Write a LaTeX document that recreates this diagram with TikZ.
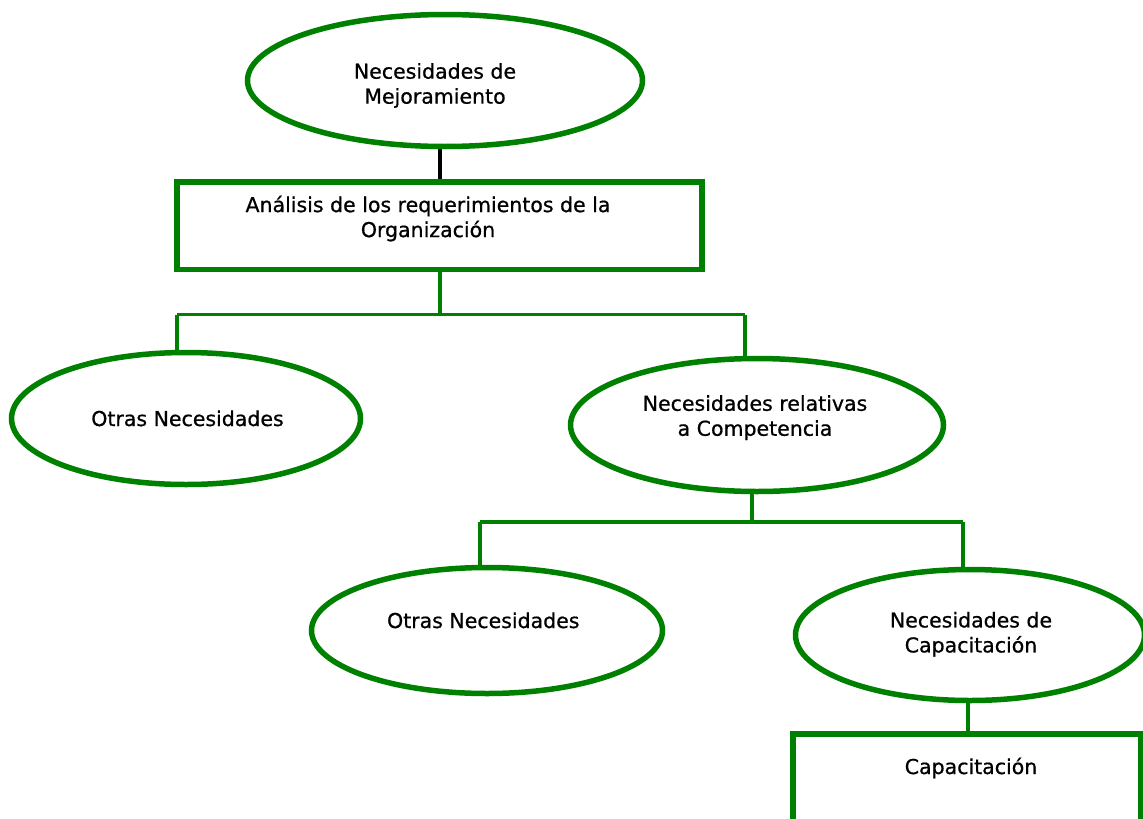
\documentclass[tikz,border=0pt]{standalone}
\usepackage{fontspec}
\setmainfont{DejaVu Sans}
\newfontfamily\lblfont{DejaVu Sans}[FakeBold=0.7]
\usetikzlibrary{shapes.geometric}
\definecolor{gr}{RGB}{0,128,0}
\tikzset{
  oval/.style={ellipse, draw=gr, line width=5.5pt, inner sep=0pt},
  boxnode/.style={rectangle, draw=gr, line width=5.5pt, inner sep=0pt},
  lbl/.style={font=\lblfont\fontsize{20.5}{25}\selectfont, align=center, inner sep=0pt, text=black},
  conn/.style={draw=gr, line width=3.5pt},
  blk/.style={draw=black, line width=4pt}
}
\begin{document}
\begin{tikzpicture}[x=1pt,y=-1pt]
\useasboundingbox (0,0) rectangle (1143,819);
\clip (0,0) rectangle (1143,819);
% shapes
\node[oval, minimum width=395pt, minimum height=132pt] (e1) at (445,80.5) {};
\node[boxnode, minimum width=525pt, minimum height=87.5pt] (r1) at (439.5,225.75) {};
\node[oval, minimum width=349pt, minimum height=132pt] (e2) at (186,418.5) {};
\node[oval, minimum width=373pt, minimum height=133pt] (e3) at (757,425) {};
\node[oval, minimum width=351pt, minimum height=126pt] (e4) at (487,630.5) {};
\node[oval, minimum width=349pt, minimum height=131pt] (e5) at (970,635) {};
\node[boxnode, minimum width=348pt, minimum height=110pt] (r2) at (967,789) {};
% texts
\node[lbl] (t1) at (435,85.5) {Necesidades de\\Mejoramiento};
\node[lbl] (t2) at (428,218.5) {Análisis de los requerimientos de la\\Organización};
\node[lbl, anchor=base] (t3) at (187.5,426) {Otras Necesidades};
\node[lbl] (t4) at (755,417.6) {Necesidades relativas\\a Competencia};
\node[lbl, anchor=base] (t5) at (483.3,628) {Otras Necesidades};
\node[lbl] (t6) at (971,634.3) {Necesidades de\\Capacitación};
\node[lbl, anchor=base] (t7) at (971,774) {Capacitación};
% connector coordinates
\coordinate (b1) at (440,314.5);
\coordinate (b1l) at (177,314.5);
\coordinate (b1r) at (745,314.5);
\coordinate (b2) at (752,522);
\coordinate (b2l) at (480,522);
\coordinate (b2r) at (963,522);
% connectors
\draw[blk] (r1.north |- e1.south) -- (r1.north);
\draw[conn] (r1.south -| b1) -- (b1);
\draw[conn] (b1l) -- (b1r);
\draw[conn] (b1l) -- ([yshift=-3pt]b1l |- e2.north);
\draw[conn] (b1r) -- (b1r |- e3.north);
\draw[conn] (b2 |- e3.south) -- (b2);
\draw[conn] (b2l) -- (b2r);
\draw[conn] (b2l) -- (b2l |- e4.north);
\draw[conn] (b2r) -- (b2r |- e5.north);
\draw[conn] ([xshift=-2pt]e5.south) -- ([xshift=-2pt]e5.south |- r2.north);
\end{tikzpicture}
\end{document}
